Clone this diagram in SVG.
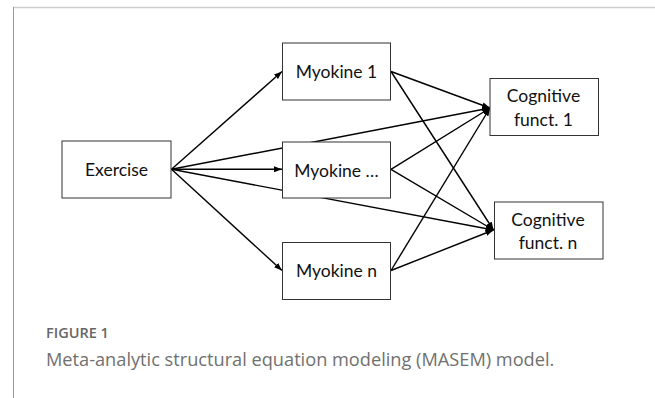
<svg xmlns="http://www.w3.org/2000/svg" width="655" height="398" viewBox="0 0 655 398">
<defs>
<marker id="arr" markerUnits="userSpaceOnUse" markerWidth="8" markerHeight="6" refX="8" refY="3" orient="auto">
<path d="M0,0 L8,3 L0,6 z" fill="#000"/>
</marker>
<style>
.box{fill:#fff;stroke:#333;stroke-width:1}
.lbl{font-family:Lato,"Liberation Sans",sans-serif;font-size:17.5px;fill:#111;text-anchor:middle}
.c{stroke:#000;stroke-width:1.4;fill:none;marker-end:url(#arr)}
.cap1{font-family:"Open Sans","Liberation Sans",sans-serif;font-size:14.5px;font-weight:600;fill:#666}
.cap2{font-family:"Open Sans","Liberation Sans",sans-serif;font-size:18.2px;fill:#707070}
</style>
</defs>
<rect width="655" height="398" fill="#fff"/>
<line x1="13" y1="7.5" x2="655" y2="7.5" stroke="#cfcfcf" stroke-width="1.5"/>
<line x1="13.5" y1="7" x2="13.5" y2="398" stroke="#999" stroke-width="1"/>
<g id="connectors">
<line class="c" x1="171.5" y1="169.3" x2="282" y2="71.5"/>
<line class="c" x1="171.5" y1="169.3" x2="282" y2="169.3"/>
<line class="c" x1="171.5" y1="169.3" x2="282" y2="270.5"/>
<line class="c" x1="171.5" y1="169.3" x2="490" y2="108"/>
<line class="c" x1="171.5" y1="169.3" x2="493.5" y2="230"/>
<line class="c" x1="391" y1="71.5" x2="490" y2="108"/>
<line class="c" x1="391" y1="71.5" x2="493.5" y2="230"/>
<line class="c" x1="391" y1="169.3" x2="490" y2="108"/>
<line class="c" x1="391" y1="169.3" x2="493.5" y2="230"/>
<line class="c" x1="391" y1="270.5" x2="490" y2="108"/>
<line class="c" x1="391" y1="270.5" x2="493.5" y2="230"/>
</g>
<g id="exercise">
<rect class="box" x="62" y="141" width="109" height="57"/>
<text class="lbl" x="116.5" y="175.7">Exercise</text>
</g>
<g id="myokine1">
<rect class="box" x="282.5" y="43" width="108" height="57"/>
<text class="lbl" x="336.5" y="78.3">Myokine 1</text>
</g>
<g id="myokine-dots">
<rect class="box" x="282.5" y="142" width="108" height="56"/>
<text class="lbl" x="336.5" y="176.7">Myokine …</text>
</g>
<g id="myokinen">
<rect class="box" x="282.5" y="242.5" width="108" height="57"/>
<text class="lbl" x="336.5" y="277.3">Myokine n</text>
</g>
<g id="cog1">
<rect class="box" x="490" y="78.5" width="108.5" height="57"/>
<text class="lbl" x="543.5" y="102.3">Cognitive</text>
<text class="lbl" x="543.5" y="126">funct. 1</text>
</g>
<g id="cogn">
<rect class="box" x="494.5" y="202" width="108.5" height="57"/>
<text class="lbl" x="548" y="225.7">Cognitive</text>
<text class="lbl" x="548" y="249">funct. n</text>
</g>
<text class="cap1" x="46" y="338.3">FIGURE 1</text>
<text class="cap2" x="46" y="365.5">Meta-analytic structural equation modeling (MASEM) model.</text>
</svg>
